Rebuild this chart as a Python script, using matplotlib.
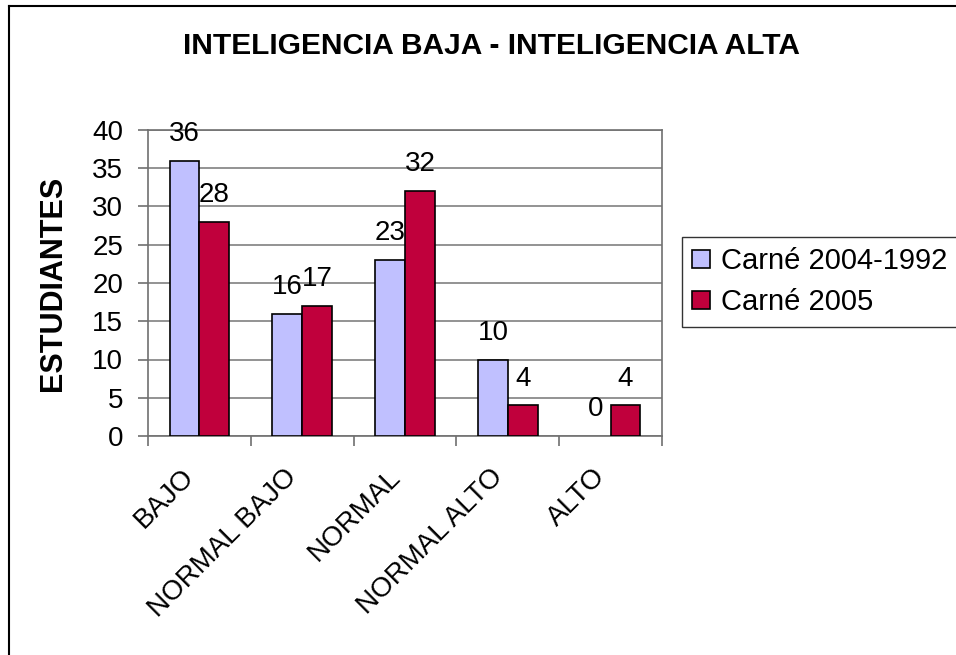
import numpy as np
import matplotlib
matplotlib.use('Agg')
import matplotlib.pyplot as plt
from matplotlib.lines import Line2D

plt.rcParams['font.family'] = ['Liberation Sans', 'DejaVu Sans']

# data
categorias = ['BAJO', 'NORMAL BAJO', 'NORMAL', 'NORMAL ALTO', 'ALTO']
carne_2004_1992 = [36, 16, 23, 10, 0]
carne_2005 = [28, 17, 32, 4, 4]
series_names = ['Carné 2004-1992', 'Carné 2005']
y_ticks = [0, 5, 10, 15, 20, 25, 30, 35, 40]

azul = '#C0C0FF'
rojo = '#C0003C'

fig = plt.figure(figsize=(9.56, 6.55), dpi=100)
ax = fig.add_axes([148 / 956, 1 - 436 / 655, (662 - 148) / 956, (436 - 130) / 655])

x = np.arange(len(categorias))
w = 0.29
b1 = ax.bar(x - w / 2, carne_2004_1992, w, color=azul, edgecolor='black', linewidth=1.2,
            label=series_names[0], zorder=3)
b2 = ax.bar(x + w / 2, carne_2005, w, color=rojo, edgecolor='black', linewidth=1.2,
            label=series_names[1], zorder=3)

# value labels above bars; zero-height bars get no outline
for bars, vals in ((b1, carne_2004_1992), (b2, carne_2005)):
    for r, v in zip(bars, vals):
        if v == 0:
            r.set_linewidth(0)
        ax.annotate(str(v), (r.get_x() + r.get_width() / 2, v), xytext=(0, 10),
                    textcoords='offset points', ha='center', va='bottom', fontsize=20)

ax.set_xlim(-0.5, len(categorias) - 0.5)
ax.set_ylim(0, 40)
ax.set_yticks(y_ticks)
ax.yaxis.grid(True, color='#808080', linewidth=1.2, zorder=0)
ax.tick_params(axis='y', labelsize=20, length=7, color='#707070', width=1.2, pad=11)

# category boundaries as ticks, category names placed as rotated text
ax.set_xticks(np.arange(len(categorias) + 1) - 0.5)
ax.set_xticklabels([])
ax.tick_params(axis='x', length=7, color='#707070', width=1.2)
for i, name in enumerate(categorias):
    ax.annotate(name, (i, 0), xycoords=('data', 'axes fraction'), xytext=(-13, -20),
                textcoords='offset points', ha='right', va='top', rotation=45,
                rotation_mode='anchor', fontsize=20)

for s in ax.spines.values():
    s.set_color('#707070')
    s.set_linewidth(1.2)

ax.set_ylabel('ESTUDIANTES', fontsize=22, fontweight='bold', labelpad=17)
fig.text(491.5 / 956, 1 - 46 / 655, 'INTELIGENCIA BAJA - INTELIGENCIA ALTA', ha='center',
         va='center', fontsize=21.5, fontweight='bold')

leg = ax.legend(loc='upper left', bbox_to_anchor=(682 / 956, 1 - 237 / 655),
                bbox_transform=fig.transFigure, borderaxespad=0, fontsize=21,
                frameon=True, fancybox=False, shadow=False, handlelength=0.6,
                handleheight=0.6, handletextpad=0.4, labelspacing=0.45, borderpad=0.35)
leg.get_frame().set_edgecolor('black')
leg.get_frame().set_linewidth(1.0)

# outer chart frame (only top and left edges fall inside the image)
fig.add_artist(Line2D([9 / 956, 9 / 956], [0, 1 - 6 / 655], color='black', linewidth=1.5,
                      transform=fig.transFigure))
fig.add_artist(Line2D([9 / 956, 1], [1 - 6 / 655, 1 - 6 / 655], color='black', linewidth=1.5,
                      transform=fig.transFigure))

fig.savefig('out.png', dpi=100)
